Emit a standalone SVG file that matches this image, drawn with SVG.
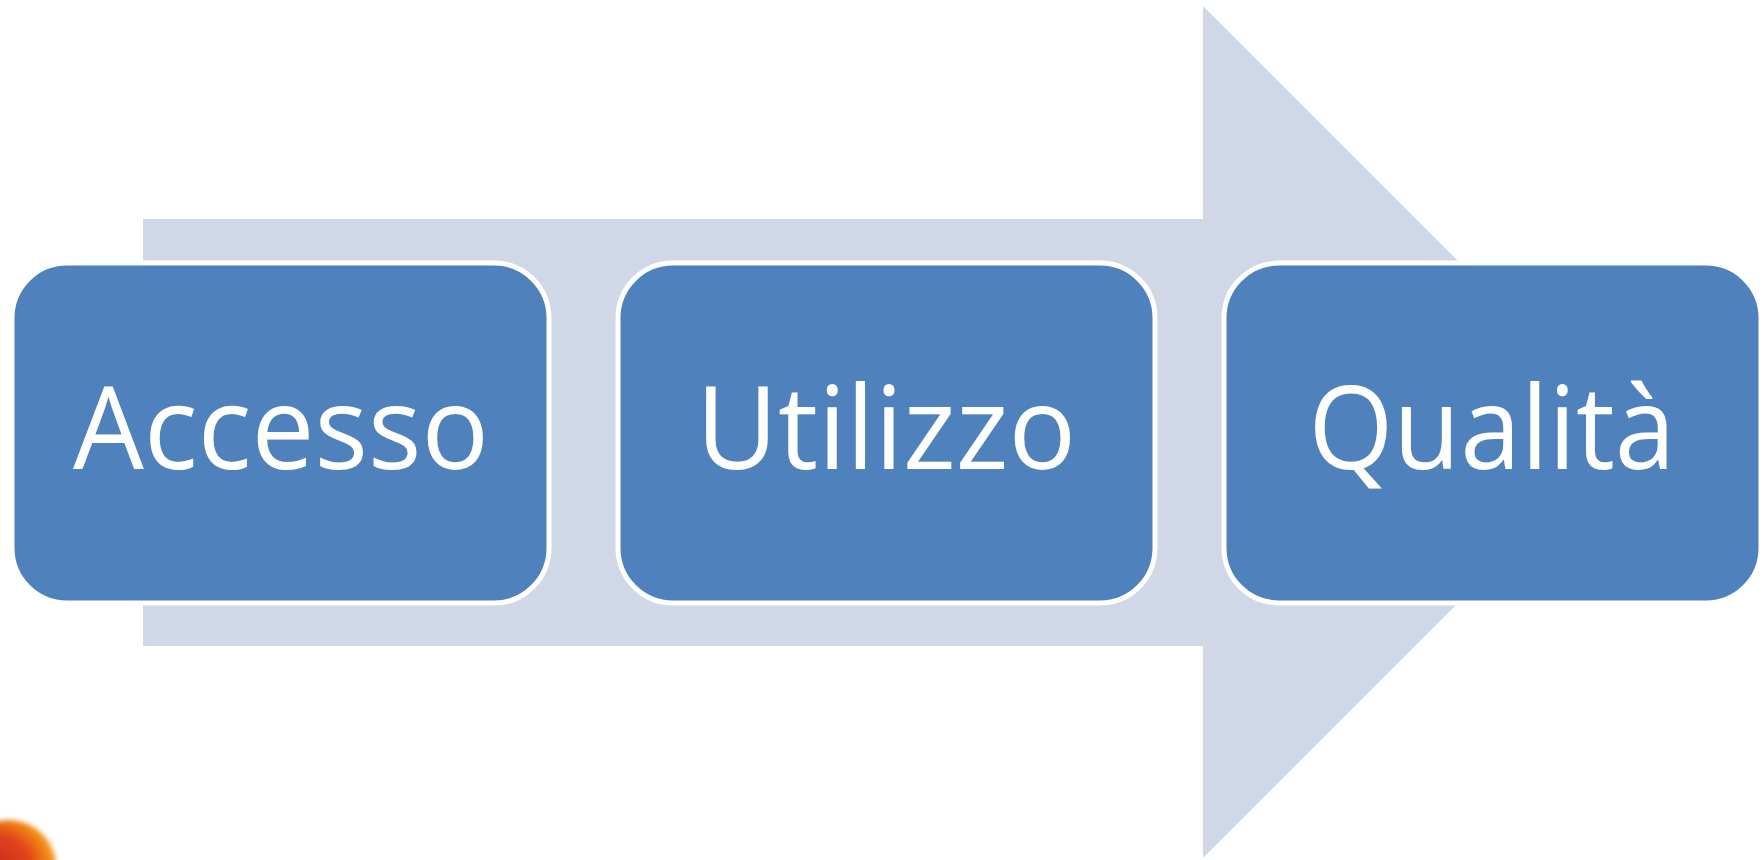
<svg xmlns="http://www.w3.org/2000/svg" width="1764" height="860" viewBox="0 0 1764 860">
  <defs>
    <style>
      .node rect { fill: #4F81BD; stroke: #FFFFFF; stroke-width: 5; }
      .node text { font-family: "Open Sans", "Noto Sans", "Liberation Sans", sans-serif; font-size: 115px; fill: #FFFFFF; text-anchor: middle; }
    </style>
    <filter id="soft" x="-50%" y="-50%" width="200%" height="200%">
      <feGaussianBlur stdDeviation="2.5"/>
    </filter>
    <radialGradient id="badge" cx="0.35" cy="0.55" r="0.65">
      <stop offset="0" stop-color="#C8281A"/>
      <stop offset="0.6" stop-color="#E0431A"/>
      <stop offset="0.85" stop-color="#F07C12"/>
      <stop offset="1" stop-color="#F5A030"/>
    </radialGradient>
  </defs>

  <rect width="1764" height="860" fill="#FFFFFF"/>

  <!-- background process arrow -->
  <g id="connectors">
    <polygon points="143,219 1203,219 1203,6 1629,432 1203,858 1203,646 143,646" fill="#D0D8E8"/>
  </g>

  <g id="node-accesso" class="node">
    <rect x="12" y="263" width="537" height="340" rx="55" ry="55"/>
    <text x="281" y="469" textLength="416" lengthAdjust="spacingAndGlyphs">Accesso</text>
  </g>

  <g id="node-utilizzo" class="node">
    <rect x="618" y="263" width="537" height="340" rx="55" ry="55"/>
    <text x="886" y="469" textLength="380" lengthAdjust="spacingAndGlyphs">Utilizzo</text>
  </g>

  <g id="node-qualita" class="node">
    <rect x="1224" y="263" width="537" height="340" rx="55" ry="55"/>
    <text x="1492" y="469" textLength="367" lengthAdjust="spacingAndGlyphs">Qualità</text>
  </g>

  <!-- partial logo in the lower-left corner -->
  <g id="corner-logo" filter="url(#soft)">
    <ellipse cx="8" cy="866" rx="48" ry="46" fill="url(#badge)"/>
  </g>
</svg>
